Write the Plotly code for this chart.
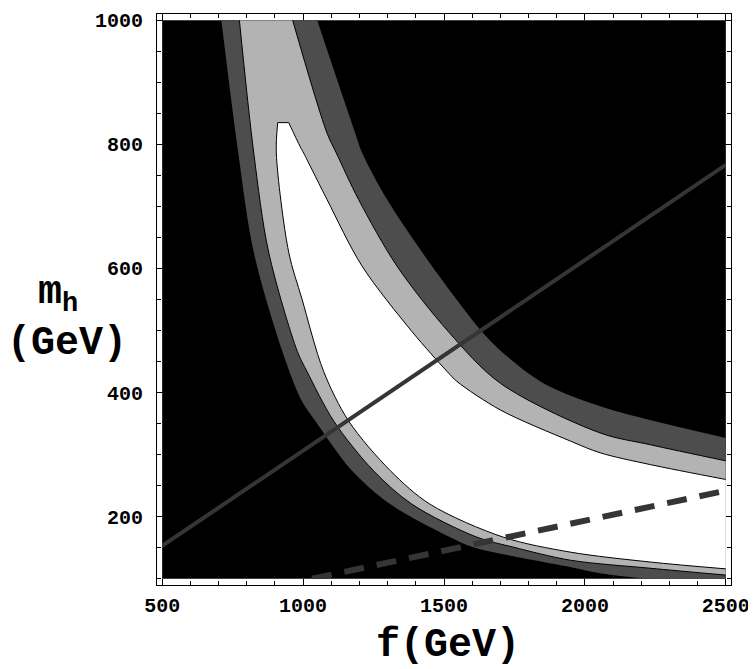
import plotly.graph_objects as go

# plot window of the scan
F_RANGE = [500, 2500]
MH_RANGE = [100, 1000]

# outer band edges (black | dark grey)
A1_F = [710, 770, 825, 927, 996, 1044, 1174, 1310, 1522, 1604, 1948, 2054, 2242]
A1_MH = [1000, 786, 626, 466, 386, 354, 274, 220, 167, 151, 119, 109, 100]
B1_F = [1050, 1185, 1210, 1298, 1457, 1635, 1700, 1842, 2054, 2500]
B1_MH = [1000, 818, 786, 711, 604, 498, 468, 418, 378, 327]

# dark grey | light grey contour
A2_F = [774, 825, 878, 980, 1014, 1109, 1250, 1387, 1617, 1746, 1948, 2232, 2500]
A2_MH = [1000, 786, 626, 466, 434, 354, 274, 220, 167, 151, 130, 117, 106]
B2_F = [963, 1085, 1118, 1197, 1333, 1516, 1700, 2054, 2232, 2500]
B2_MH = [1000, 818, 786, 711, 604, 498, 415, 335, 316, 290]

# light grey | white contour
A3_F = [910, 905, 949, 996, 1073, 1162, 1310, 1451, 1711, 1948, 2232, 2500]
A3_MH = [835, 786, 626, 551, 434, 354, 274, 220, 167, 143, 127, 116]
B3_F = [949, 990, 1002, 1085, 1209, 1387, 1511, 1546, 1700, 1948, 2054, 2232, 2500]
B3_MH = [835, 796, 786, 711, 604, 498, 434, 418, 372, 322, 303, 284, 260]

# straight lines
SOLID_F = [500, 2500]
SOLID_MH = [153, 767]
DASH_F = [1032, 2500]
DASH_MH = [100, 242]

F_TICKS = [500, 1000, 1500, 2000, 2500]
MH_TICKS = [200, 400, 600, 800, 1000]

DARK = "#4d4d4d"
LIGHT = "#b3b3b3"
LINE = "#353535"
PAD_F = 18.3
PAD_MH = 10

mono = "Liberation Mono"

fig = go.Figure()


def curve(f, mh, fill=None, fillcolor=None, color="black"):
    fig.add_trace(go.Scatter(
        x=f, y=mh, xaxis="x2", yaxis="y2", mode="lines",
        line=dict(color=color, width=1, shape="spline", smoothing=0.9),
        fill=fill, fillcolor=fillcolor,
        hoverinfo="skip", showlegend=False,
    ))


# dark band (the outer edge runs along the bottom to the corner)
curve(A1_F + [F_RANGE[1]], A1_MH + [MH_RANGE[0]], color="rgba(0,0,0,0)")
curve(B1_F, B1_MH, fill="tonexty", fillcolor=DARK, color="rgba(0,0,0,0)")
# light band
curve(A2_F, A2_MH)
curve(B2_F, B2_MH, fill="tonexty", fillcolor=LIGHT)
# white region
curve(A3_F, A3_MH)
curve(B3_F, B3_MH, fill="tonexty", fillcolor="white")
fig.add_trace(go.Scatter(
    x=[A3_F[0], B3_F[0]], y=[A3_MH[0], B3_MH[0]], xaxis="x2", yaxis="y2",
    mode="lines", line=dict(color="black", width=1),
    hoverinfo="skip", showlegend=False,
))

fig.add_trace(go.Scatter(
    x=SOLID_F, y=SOLID_MH, xaxis="x2", yaxis="y2", mode="lines",
    line=dict(color=LINE, width=4), hoverinfo="skip", showlegend=False,
))
fig.add_trace(go.Scatter(
    x=DASH_F, y=DASH_MH, xaxis="x2", yaxis="y2", mode="lines",
    line=dict(color=LINE, width=6, dash="20px,13px"),
    hoverinfo="skip", showlegend=False,
))
# frame subplot needs a trace
fig.add_trace(go.Scatter(x=[], y=[], hoverinfo="skip", showlegend=False))

fw = F_RANGE[1] - F_RANGE[0] + 2 * PAD_F
mw = MH_RANGE[1] - MH_RANGE[0] + 2 * PAD_MH
tickfont = dict(family=mono, size=20, weight="bold", color="black")
frame = dict(showline=True, linecolor="black", linewidth=1.2, mirror="ticks",
             ticks="inside", ticklen=6, tickwidth=1, tickcolor="black",
             showgrid=False, zeroline=False, tickfont=tickfont,
             ticklabeloverflow="allow")
label_font = dict(family=mono, size=40, weight="bold", color="black")

# the page body has an 8px margin, so the figure is 8px smaller
fig.update_layout(
    width=748, height=661,
    margin=dict(l=149, r=25, t=2, b=84),
    paper_bgcolor="white", plot_bgcolor="rgba(0,0,0,0)",
    xaxis=dict(frame, domain=[0, 1], range=[F_RANGE[0] - PAD_F, F_RANGE[1] + PAD_F],
               tickvals=F_TICKS, ticklabelstandoff=2,
               minor=dict(ticks="inside", ticklen=3.5, tick0=500, dtick=100, tickcolor="black")),
    yaxis=dict(frame, domain=[0, 1], range=[MH_RANGE[0] - PAD_MH, MH_RANGE[1] + PAD_MH],
               tickvals=MH_TICKS, ticklabelstandoff=9,
               minor=dict(ticks="inside", ticklen=3.5, tick0=100, dtick=50, tickcolor="black")),
    xaxis2=dict(domain=[PAD_F / fw, 1 - PAD_F / fw], range=F_RANGE, visible=False,
                anchor="y2", showgrid=False, zeroline=False),
    yaxis2=dict(domain=[PAD_MH / mw, 1 - PAD_MH / mw], range=MH_RANGE, visible=False,
                anchor="x2", showgrid=False, zeroline=False),
    shapes=[dict(type="rect", xref="x2 domain", yref="y2 domain", x0=0, x1=1, y0=0, y1=1,
                 fillcolor="black", line_width=0, layer="below")],
    annotations=[
        dict(text="m<sub><span style='font-size:27px'>h</span></sub>", xref="paper",
             yref="paper", x=-0.172, y=0.508, xanchor="center", yanchor="middle",
             showarrow=False, font=label_font),
        dict(text="(GeV)", xref="paper", yref="paper", x=-0.157, y=0.423,
             xanchor="center", yanchor="middle", showarrow=False, font=label_font),
        dict(text="f(GeV)", xref="paper", yref="paper", x=0.507, y=-0.106,
             xanchor="center", yanchor="middle", showarrow=False, font=label_font),
    ],
)

fig.write_html("out.html")
